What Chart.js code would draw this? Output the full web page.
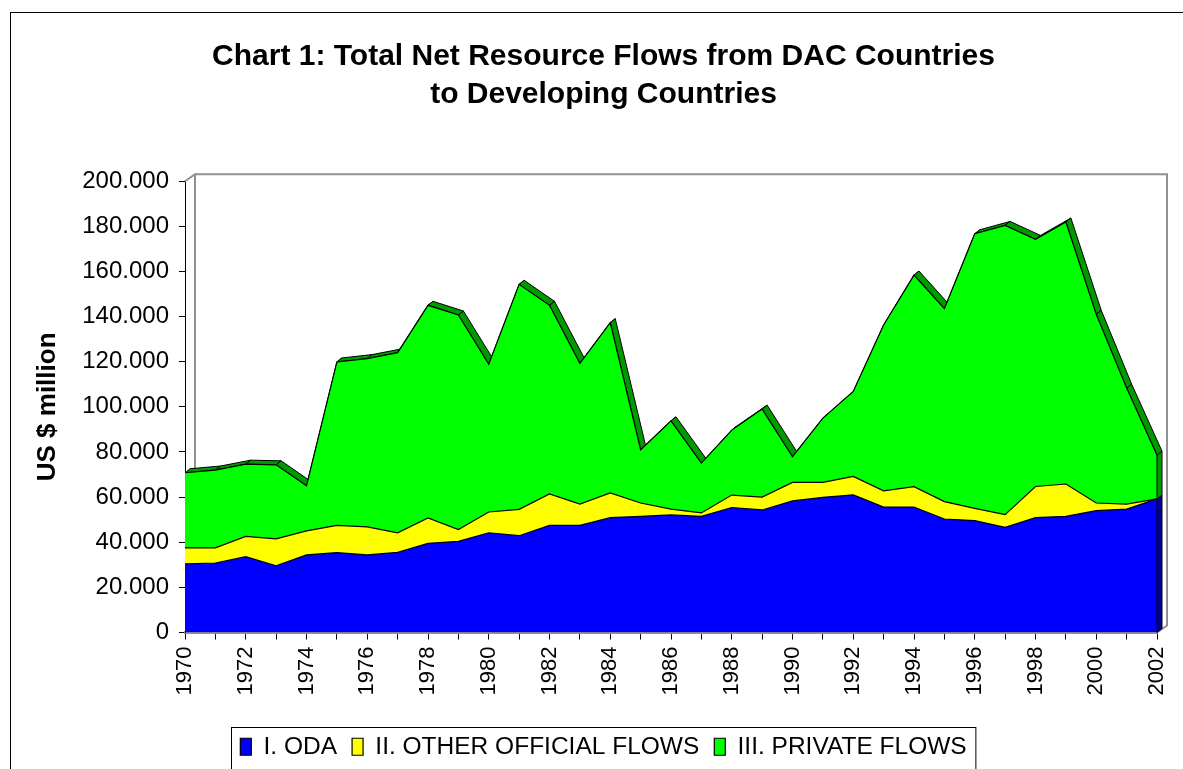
<!DOCTYPE html>
<html>
<head>
<meta charset="utf-8">
<script src="https://cdn.jsdelivr.net/npm/chart.js@4.4.1/dist/chart.umd.min.js"></script>
<style>
  html, body { margin: 0; padding: 0; background: #fff; overflow: hidden; }
  #wrap { position: absolute; left: 0; top: 0; width: 1207px; height: 769px; }
</style>
</head>
<body>
<div id="wrap"><canvas id="flows"></canvas></div>
<script>
const years = [];
for (let y = 1970; y <= 2002; y++) years.push(String(y));

// US $ million
const oda = [30400, 30800, 33600, 29600, 34400, 35400, 34400, 35500, 39500, 40400, 44200,
  42900, 47500, 47500, 50900, 51500, 52100, 51500, 55400, 54300, 58300, 59900,
  61000, 55600, 55600, 50300, 49600, 46600, 50900, 51500, 54000, 54700, 59200];
const otherOfficial = [7100, 6700, 9000, 11900, 10600, 12100, 12400, 8700, 11300, 5200, 9200,
  11700, 13900, 9400, 11000, 5900, 2600, 1500, 5500, 5700, 8200, 6600,
  8200, 7200, 9000, 7700, 5400, 5600, 13800, 14300, 3400, 2200, 0];
const privateFlows = [33300, 34500, 32000, 32800, 20000, 72400, 74600, 79800, 94200, 95100, 65500,
  99700, 83600, 62400, 75400, 23600, 39100, 22100, 28800, 39000, 11400, 28500,
  37600, 73500, 93800, 85500, 121700, 128200, 109500, 116100, 83600, 51400, 19400];

const seriesNames = ["I. ODA", "II. OTHER OFFICIAL FLOWS", "III. PRIVATE FLOWS"];
const seriesColors = ["#0000ff", "#ffff00", "#00ff00"];
const yTicks = [0, 20000, 40000, 60000, 80000, 100000, 120000, 140000, 160000, 180000, 200000];

const DX = 5, DY = -4;      // depth of the "3D" areas
const WX = 10, WY = -7;     // offset of the back wall
const FONT = "'Liberation Sans', Arial, sans-serif";

function fmt(v){
  return String(v).replace(/\B(?=(\d{3})+(?!\d))/g, ".");
}

const depthPlugin = {
  id: "depth",
  beforeDraw(chart){
    const ctx = chart.ctx;
    ctx.save();
    ctx.strokeStyle = "#000";
    ctx.lineWidth = 1;
    ctx.strokeRect(10.5, 12.5, 1400, 1000);
    ctx.restore();
  },
  beforeDatasetsDraw(chart){
    const {ctx, chartArea: a} = chart;
    ctx.save();
    // back wall
    ctx.strokeStyle = "#909090";
    ctx.lineWidth = 2;
    ctx.beginPath();
    ctx.moveTo(a.left, a.top);
    ctx.lineTo(a.left + WX, a.top + WY);
    ctx.lineTo(a.right + WX, a.top + WY);
    ctx.lineTo(a.right + WX, a.bottom + WY);
    ctx.lineTo(a.right, a.bottom);
    ctx.moveTo(a.left + WX, a.top + WY);
    ctx.lineTo(a.left + WX, a.bottom + WY);
    ctx.stroke();
    // top face of the private flows area
    const pts = chart.getDatasetMeta(2).data;
    ctx.fillStyle = "#009a00";
    ctx.strokeStyle = "#000";
    ctx.lineWidth = 1;
    for (let i = 0; i < pts.length - 1; i++){
      const p = pts[i], q = pts[i + 1];
      ctx.beginPath();
      ctx.moveTo(p.x, p.y);
      ctx.lineTo(q.x, q.y);
      ctx.lineTo(q.x + DX, q.y + DY);
      ctx.lineTo(p.x + DX, p.y + DY);
      ctx.closePath();
      ctx.fill();
      ctx.stroke();
    }
    ctx.restore();
  },
  afterDatasetsDraw(chart){
    const {ctx, chartArea: a} = chart;
    ctx.save();
    ctx.strokeStyle = "#000";
    ctx.lineWidth = 1;
    const sideColors = ["#000090", "#9a9a00", "#009a00"];
    let prevY = a.bottom;
    for (let d = 0; d < 3; d++){
      const pts = chart.getDatasetMeta(d).data;
      const p = pts[pts.length - 1];
      if (Math.abs(prevY - p.y) > 0.5){
        ctx.fillStyle = sideColors[d];
        ctx.beginPath();
        ctx.moveTo(p.x, prevY);
        ctx.lineTo(p.x, p.y);
        ctx.lineTo(p.x + DX, p.y + DY);
        ctx.lineTo(p.x + DX, prevY + DY);
        ctx.closePath();
        ctx.fill();
        ctx.stroke();
      }
      prevY = p.y;
    }
    ctx.restore();
  },
  afterDraw(chart){
    const lg = chart.legend;
    if (!lg || !lg.legendHitBoxes || !lg.legendHitBoxes.length) return;
    const boxes = lg.legendHitBoxes;
    const l = Math.min(...boxes.map(b => b.left)) - 9;
    const r = Math.max(...boxes.map(b => b.left + b.width)) + 9;
    const t = Math.min(...boxes.map(b => b.top)) - 8;
    const ctx = chart.ctx;
    ctx.save();
    ctx.strokeStyle = "#000";
    ctx.lineWidth = 1;
    ctx.strokeRect(Math.round(l) + 0.5, Math.round(t) + 0.5, r - l, 200);
    ctx.restore();
  }
};

const datasets = [oda, otherOfficial, privateFlows].map((vals, i) => ({
  label: seriesNames[i],
  data: vals,
  yAxisID: "y",
  backgroundColor: seriesColors[i],
  borderColor: "#000",
  borderWidth: 1.2,
  fill: i === 0 ? "origin" : "-1",
  pointRadius: 0,
  pointHoverRadius: 0,
  tension: 0
}));

new Chart(document.getElementById("flows"), {
  type: "line",
  data: {labels: years, datasets},
  plugins: [depthPlugin],
  options: {
    responsive: true,
    maintainAspectRatio: false,
    animation: false,
    layout: {padding: 0},
    plugins: {
      title: {
        display: true,
        text: ["Chart 1: Total Net Resource Flows from DAC Countries", "to Developing Countries"],
        color: "#000",
        font: {family: FONT, size: 30, weight: "bold", lineHeight: 1.27},
        padding: {top: 38, bottom: 67}
      },
      legend: {
        position: "bottom",
        labels: {
          color: "#000",
          font: {family: FONT, size: 24.5},
          boxWidth: 11,
          boxHeight: 17,
          padding: 15
        }
      },
      tooltip: {enabled: false}
    },
    scales: {
      x: {
        grid: {drawOnChartArea: false, drawTicks: true, tickLength: 7, color: "#000"},
        border: {display: true, color: "#909090", width: 3},
        ticks: {
          autoSkip: false,
          maxRotation: 90,
          minRotation: 90,
          padding: 7,
          color: "#000",
          font: {family: FONT, size: 22},
          callback: (v, i) => (i % 2 === 0 ? years[i] : "")
        },
        afterFit: s => { s.height = 87; }
      },
      y: {
        stacked: true,
        min: yTicks[0],
        max: yTicks[yTicks.length - 1],
        afterBuildTicks: s => { s.ticks = yTicks.map(v => ({value: v})); },
        grid: {drawOnChartArea: false, drawTicks: true, tickLength: 6, color: "#000"},
        border: {display: true, color: "#000", width: 1},
        ticks: {
          color: "#000",
          padding: 10,
          font: {family: FONT, size: 24},
          callback: v => fmt(v)
        },
        title: {
          display: true,
          text: "US $ million",
          color: "#000",
          font: {family: FONT, size: 26, weight: "bold"},
          padding: {top: 32, bottom: 0}
        },
        afterFit: s => { s.width = 185; }
      },
      // empty spacer on the right so the plot ends where the original does
      spacer: {
        type: "linear",
        axis: "y",
        position: "right",
        display: true,
        grid: {display: false},
        border: {display: false},
        ticks: {display: false},
        afterFit: s => { s.width = 50; }
      }
    }
  }
});
</script>
</body>
</html>
